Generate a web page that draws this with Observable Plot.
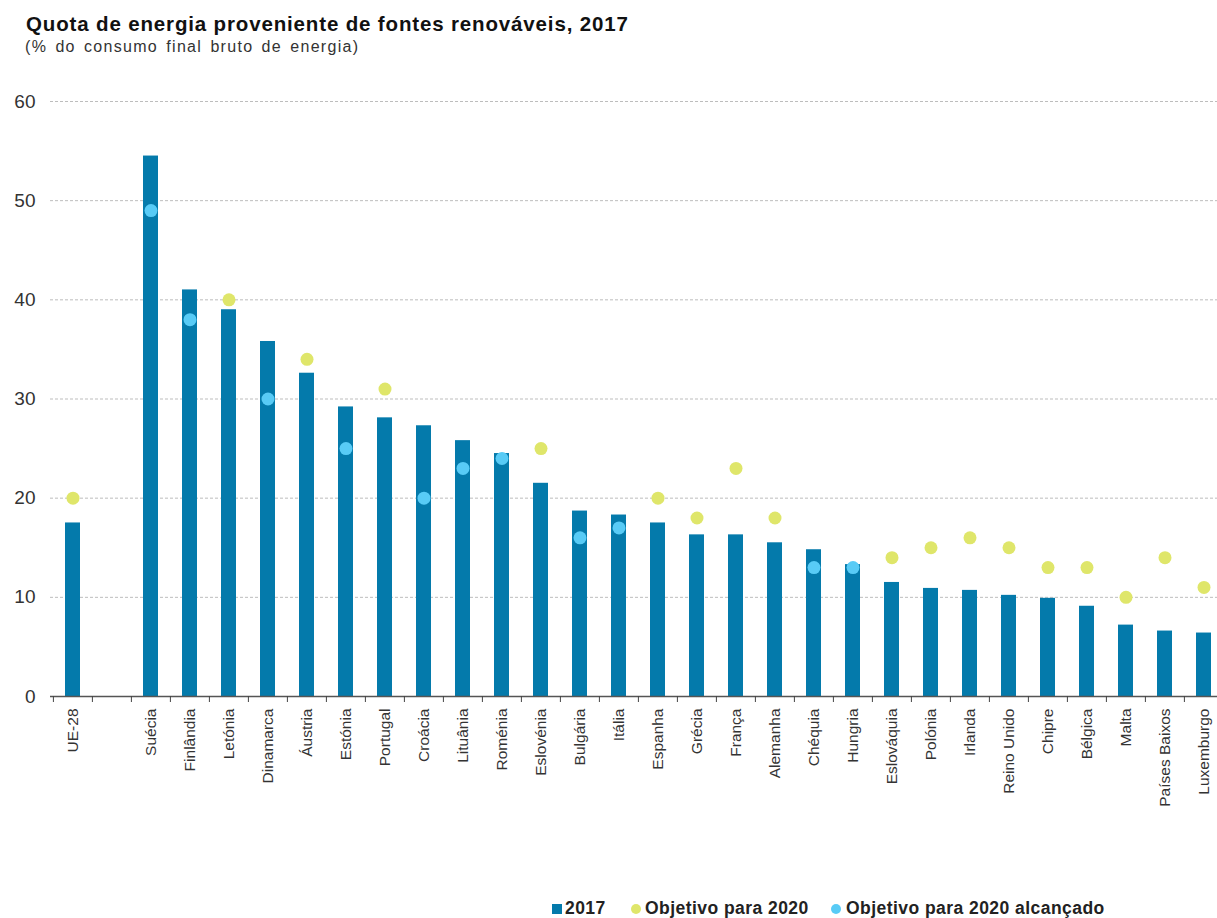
<!DOCTYPE html>
<html><head><meta charset="utf-8">
<script src="https://cdn.jsdelivr.net/npm/d3@7"></script>
<script src="https://cdn.jsdelivr.net/npm/@observablehq/plot@0.6"></script>
<style>
body{margin:0;background:#fff;font-family:"Liberation Sans",Arial,sans-serif;}
#wrap{position:relative;width:1217px;height:918px;overflow:hidden;background:#fff}
#title{position:absolute;left:26px;top:12px;font-size:20.5px;line-height:24px;font-weight:bold;color:#111;white-space:nowrap;letter-spacing:0.85px}
#subtitle{position:absolute;left:25px;top:38px;font-size:16px;line-height:18px;color:#333;white-space:nowrap;letter-spacing:1.3px;word-spacing:2.5px}
#chart{position:absolute;left:0;top:62px}
.lg{position:absolute;top:898px;font-size:17.5px;font-weight:bold;color:#222;white-space:nowrap;line-height:20px;letter-spacing:0.45px}
.sw{position:absolute;width:10px;height:10px}
</style>
</head><body>
<div id="wrap">
<div id="title">Quota de energia proveniente de fontes renováveis, 2017</div>
<div id="subtitle">(% do consumo final bruto de energia)</div>
<div id="chart"></div>
<div id="legend"></div>
</div>
<script>
const countries = ["UE-28"," ","Suécia","Finlândia","Letónia","Dinamarca","Áustria","Estónia","Portugal","Croácia","Lituânia","Roménia","Eslovénia","Bulgária","Itália","Espanha","Grécia","França","Alemanha","Chéquia","Hungria","Eslováquia","Polónia","Irlanda","Reino Unido","Chipre","Bélgica","Malta","Países Baixos","Luxemburgo"];
const share2017 = [17.5,null,54.5,41.0,39.0,35.8,32.6,29.2,28.1,27.3,25.8,24.5,21.5,18.7,18.3,17.5,16.3,16.3,15.5,14.8,13.3,11.5,10.9,10.7,10.2,9.9,9.1,7.2,6.6,6.4];
const target2020 = [20,null,49,38,40,30,34,25,31,20,23,24,25,16,17,20,18,23,18,13,13,14,15,16,15,13,13,10,14,11];
const reached = [false,null,true,true,false,true,false,true,false,true,true,true,false,true,true,false,false,false,false,true,true,false,false,false,false,false,false,false,false,false];
const yTicks = [0,10,20,30,40,50,60];
const legendLabels = ["2017","Objetivo para 2020","Objetivo para 2020 alcançado"];

const colBar = "#047aab", colTarget = "#dfe66a", colReached = "#58cbf6";

const rows = countries.map((c,i)=>({name:c, value:share2017[i], target:target2020[i], reached:reached[i]})).filter(d=>d.value!=null);

const x0 = 50, x1 = 1226;
const step = (x1-x0)/countries.length;
const chart = Plot.plot({
  width:1217, height:830,
  marginTop:39, marginBottom:196, marginLeft:50, marginRight:0,
  x:{domain:countries, range:[x0,x1], paddingInner:0.61, paddingOuter:0.305, label:null},
  y:{domain:[0,60], label:null},
  style:{fontFamily:"'Liberation Sans', Arial, sans-serif", background:"#fff"},
  marks:[
    Plot.gridY(yTicks.filter(t=>t>0), {stroke:"#bdbdbd", strokeOpacity:1, strokeDasharray:"3,2"}),
    Plot.barY(rows, {x:"name", y:"value", fill:colBar}),
    Plot.ruleY([0], {stroke:"#555", strokeWidth:1.5}),
    Plot.dot(rows.filter(d=>!d.reached), {x:"name", y:"target", r:6.5, fill:colTarget}),
    Plot.dot(rows.filter(d=>d.reached), {x:"name", y:"target", r:6.5, fill:colReached}),
    Plot.axisY({ticks:yTicks, tickSize:0, tickPadding:15, fontSize:19, fill:"#333"}),
    Plot.axisX({tickSize:6, tickFormat:()=>"", dx:-step/2, stroke:"#444"}),
    Plot.axisX({tickSize:0, tickRotate:-90, tickPadding:12, fontSize:15.5, fill:"#333", tickFormat:d=>d.trim()})
  ]
});
document.getElementById("chart").appendChild(chart);

const lg = document.getElementById("legend");
const items = [
  {label:legendLabels[0], color:colBar, x:552, tx:565, round:false},
  {label:legendLabels[1], color:colTarget, x:631, tx:645, round:true},
  {label:legendLabels[2], color:colReached, x:831, tx:846, round:true}
];
items.forEach(it=>{
  const s=document.createElement("div");
  s.className="sw"; s.style.left=it.x+"px"; s.style.top="904px"; s.style.background=it.color;
  if(it.round) s.style.borderRadius="50%";
  lg.appendChild(s);
  const t=document.createElement("div");
  t.className="lg"; t.style.left=it.tx+"px"; t.textContent=it.label;
  lg.appendChild(t);
});
</script>
</body></html>
